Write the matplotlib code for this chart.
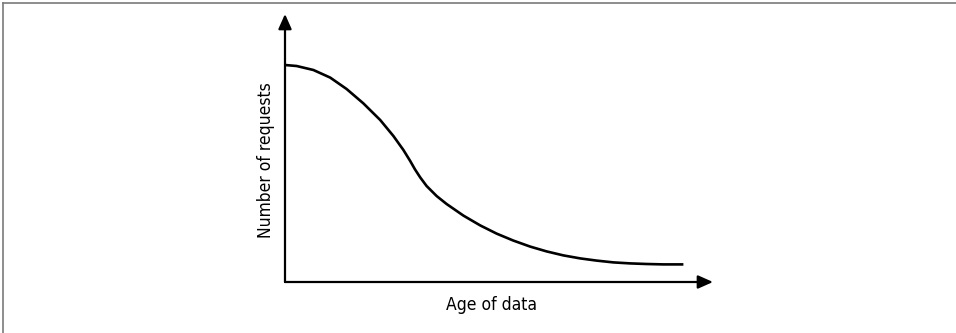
import matplotlib.pyplot as plt
from matplotlib.lines import Line2D

# request volume against age of the data (arbitrary units)
age = [0.0, 0.29, 0.71, 1.13, 1.54, 1.96, 2.38, 2.71, 2.96, 3.13, 3.25, 3.38,
       3.54, 3.79, 4.04, 4.46, 4.88, 5.29, 5.71, 6.13, 6.54, 6.96, 7.38, 7.79,
       8.21, 8.63, 9.04, 9.46, 9.96]
requests = [10.85, 10.8, 10.6, 10.22, 9.65, 8.93, 8.1, 7.3, 6.6, 6.05, 5.63, 5.23,
            4.8, 4.3, 3.9, 3.32, 2.83, 2.42, 2.07, 1.77, 1.53, 1.33, 1.18, 1.07,
            0.98, 0.93, 0.9, 0.88, 0.88]

x_label = "Age of data"
y_label = "Number of requests"

plt.rcParams['font.family'] = ['DejaVu Sans']
plt.rcParams['font.stretch'] = 'condensed'

W, H = 956, 333
fig = plt.figure(figsize=(W / 100, H / 100), dpi=100)

# origin of the axes at (285, 282) px, arrow tips at x=713 and y=14
ax = fig.add_axes([285 / W, (H - 282) / H, (713 - 285) / W, (282 - 14) / H])
xmax, ymax = (713 - 285) / 40, (282 - 14) / 20
ax.set_xlim(0, xmax)
ax.set_ylim(0, ymax)
ax.axis('off')

ax.plot(age, requests, color='black', lw=1.9, solid_capstyle='butt',
        solid_joinstyle='round', clip_on=False)

# axes drawn as arrows
arrow = dict(arrowstyle='-|>,head_length=0.9,head_width=0.4', color='black', lw=1.6,
             shrinkA=0, shrinkB=0)
ax.annotate('', xy=(xmax, 0), xytext=(0, 0), arrowprops=arrow)
ax.annotate('', xy=(0, ymax), xytext=(0, 0), arrowprops=arrow)

fig.text(492 / W, 1 - 305 / H, x_label, ha='center', va='center', fontsize=12.5)
fig.text(266 / W, 1 - 160 / H, y_label, ha='center', va='center', fontsize=12.5,
         rotation=90)

# thin frame along the top and left edges
fig.add_artist(Line2D([3 / W, 1], [1 - 3 / H, 1 - 3 / H], color='#7a7a7a', lw=1.2,
                      transform=fig.transFigure))
fig.add_artist(Line2D([3 / W, 3 / W], [0, 1 - 3 / H], color='#7a7a7a', lw=1.2,
                      transform=fig.transFigure))

fig.savefig('out.png', dpi=100)
